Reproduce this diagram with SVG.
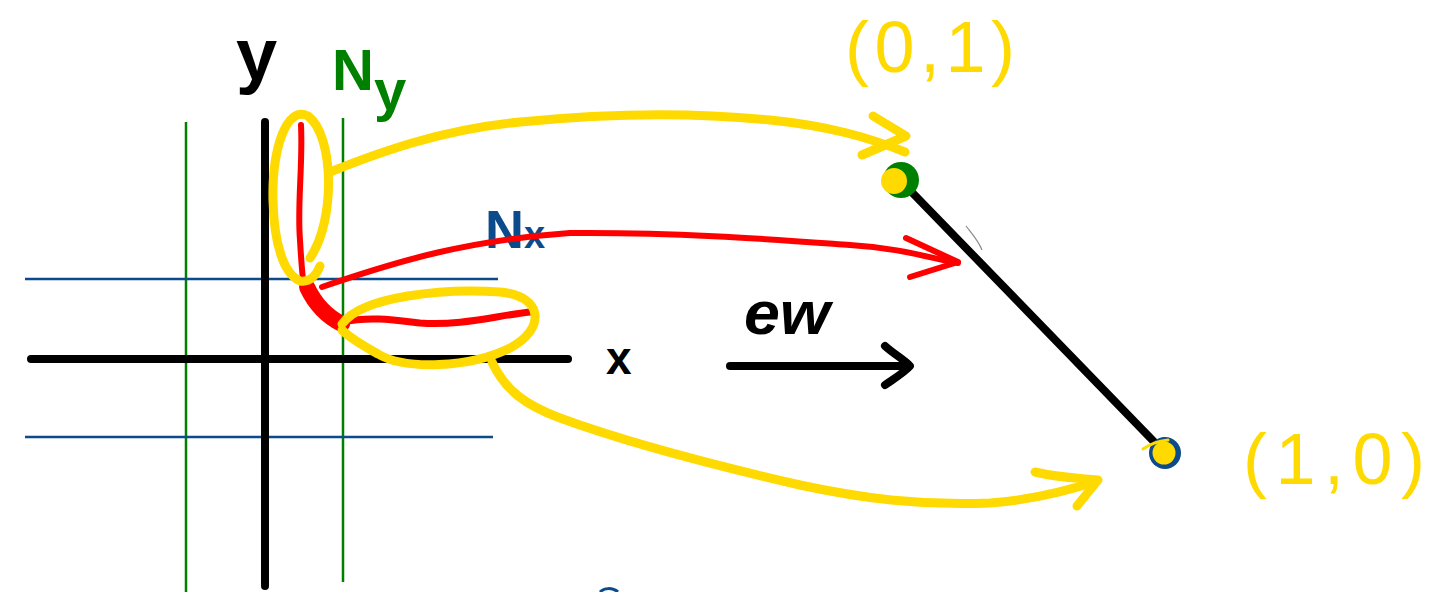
<svg xmlns="http://www.w3.org/2000/svg" width="1451" height="592" viewBox="0 0 1451 592">
  <style>
    .thin-g { stroke: #008000; stroke-width: 2.5; fill: none; }
    .thin-b { stroke: #0b4a8b; stroke-width: 2.5; fill: none; }
    .axis { stroke: #000; stroke-width: 8; stroke-linecap: round; fill: none; }
    .yel { stroke: #FFDA00; stroke-width: 9; stroke-linecap: round; stroke-linejoin: round; fill: none; }
    .red { stroke: #FF0000; stroke-width: 6; stroke-linecap: round; stroke-linejoin: round; fill: none; }
    .blk { stroke: #000; stroke-width: 8; stroke-linecap: round; stroke-linejoin: round; fill: none; }
    .lbl { font-family: "Liberation Sans", Arial, sans-serif; font-weight: bold; }
    .coord { font-family: "Liberation Sans", Arial, sans-serif; font-weight: normal; fill: #FFDA00; }
  </style>
  <rect width="1451" height="592" fill="#fff"/>

  <g id="grid">
    <line class="thin-g" x1="186" y1="122" x2="186" y2="592"/>
    <line class="thin-g" x1="343" y1="118" x2="343" y2="582"/>
    <line class="thin-b" x1="25" y1="279" x2="498" y2="279"/>
    <line class="thin-b" x1="25" y1="437" x2="493" y2="437"/>
    <line class="axis" x1="265" y1="122" x2="265" y2="586"/>
    <line class="axis" x1="31" y1="359" x2="568" y2="359"/>
  </g>

  <g id="labels">
    <text class="lbl" x="236" y="80" font-size="74" fill="#000">y</text>
    <text class="lbl" x="332" y="90" font-size="58" fill="#008000">N<tspan dy="20">y</tspan></text>
    <text class="lbl" x="485" y="248" font-size="54" fill="#0b4a8b">N<tspan font-size="38">x</tspan></text>
    <text class="lbl" x="606" y="374" font-size="46" fill="#000">x</text>
    <text class="lbl" x="744" y="334" font-size="62" fill="#000" font-style="italic" textLength="86" lengthAdjust="spacingAndGlyphs">ew</text>
  </g>

  <g id="red-path">
    <path class="red" d="M301,125 C303,165 297,205 300,240 C301,258 302,270 303,280"/>
    <path class="red" style="stroke-width:16" d="M307,287 C314,302 326,316 342,324"/>
    <path class="red" style="stroke-width:7" d="M342,322 C370,316 395,320 420,323 C460,326 495,316 530,312"/>
  </g>

  <g id="yellow-loop-y">
    <path class="yel" d="M310,258 C336,220 334,135 308,116 C286,105 272,150 273,200 C274,245 284,274 300,281 C310,283 317,274 320,266"/>
  </g>

  <g id="yellow-loop-x">
    <path class="yel" d="M342,324 C362,296 445,288 500,292 C545,296 545,330 510,348 C470,368 405,370 378,354 C360,344 348,336 342,330"/>
  </g>

  <g id="line-segment">
    <line class="blk" x1="900" y1="180" x2="1163" y2="451"/>
    <path d="M966,226 C972,234 978,240 982,250" stroke="#888" stroke-width="1.2" fill="none"/>
  </g>

  <g id="point-01">
    <circle cx="901" cy="180" r="18" fill="#008000"/>
    <circle cx="894" cy="181" r="13" fill="#FFDA00"/>
  </g>

  <g id="point-10">
    <circle cx="1165" cy="453" r="16" fill="#0b4a8b"/>
    <circle cx="1164" cy="453" r="11.5" fill="#FFDA00"/>
    <path d="M1143,449 C1150,444 1160,441 1168,440" stroke="#FFDA00" stroke-width="3" fill="none" stroke-linecap="round"/>
  </g>

  <g id="coord-labels">
    <text class="coord" x="845" y="72" font-size="72" textLength="170" lengthAdjust="spacing">(0,1)</text>
    <text class="coord" x="1243" y="484" font-size="72" textLength="182" lengthAdjust="spacing">(1,0)</text>
  </g>

  <g id="connectors">
    <path class="yel" d="M330,172 C380,152 440,130 520,122 C600,114 690,112 770,120 C830,126 870,138 905,152"/>
    <path class="yel" d="M873,116 L906,136 L862,155"/>
    <path class="red" d="M322,287 C400,260 470,240 570,233 C680,232 780,240 850,245 C900,248 930,258 958,263"/>
    <path class="red" d="M906,238 L958,262 L910,277"/>
    <path class="yel" d="M492,362 C505,390 525,405 560,418 C620,440 700,462 800,485 C860,498 920,506 990,503 C1030,500 1070,490 1097,481"/>
    <path class="yel" d="M1035,472 C1060,478 1080,478 1098,480 L1077,506"/>
    <path class="blk" d="M730,366 L908,366"/>
    <path class="blk" d="M885,346 C895,355 905,360 910,366 C905,372 895,378 885,385"/>
    <path d="M600,592 C604,588 612,587 618,592" stroke="#0b4a8b" stroke-width="3" fill="none"/>
  </g>
</svg>
